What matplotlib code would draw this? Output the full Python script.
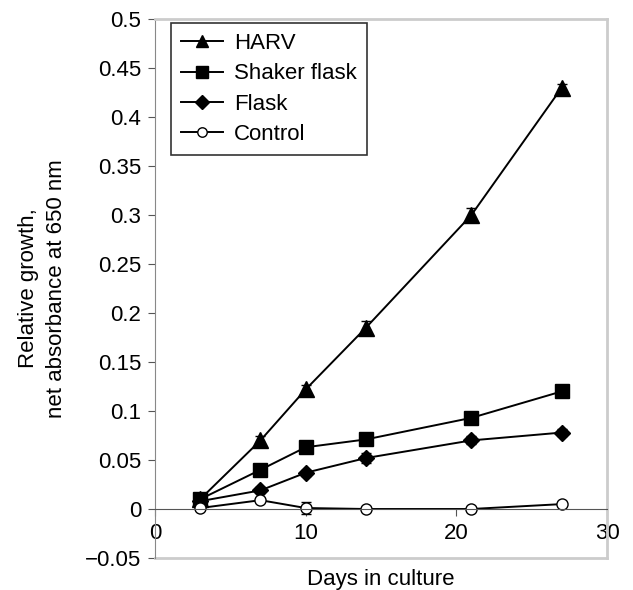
import matplotlib
matplotlib.use("Agg")
import matplotlib.pyplot as plt
from matplotlib.lines import Line2D

plt.rcParams['font.family'] = ['Liberation Sans', 'DejaVu Sans']

days = [3, 7, 10, 14, 21, 27]

harv = [0.010, 0.070, 0.122, 0.185, 0.300, 0.430]
harv_err = [0.002, 0.004, 0.005, 0.007, 0.007, 0.004]

shaker = [0.010, 0.040, 0.063, 0.071, 0.093, 0.120]
shaker_err = [0.002, 0.003, 0.003, 0.003, 0.003, 0.006]

flask = [0.008, 0.019, 0.037, 0.052, 0.070, 0.078]
flask_err = [0.002, 0.003, 0.003, 0.005, 0.004, 0.004]

control = [0.001, 0.009, 0.001, 0.000, 0.000, 0.005]
control_err = [0.001, 0.001, 0.006, 0.001, 0.001, 0.001]

names = ["HARV", "Shaker flask", "Flask", "Control"]
markers = ["^", "s", "D", "o"]
msizes = [11, 9.5, 8.5, 8]
fills = ["black", "black", "black", "white"]

fig = plt.figure(figsize=(6.33, 5.9), dpi=100)
ax = fig.add_axes([155 / 633, 32 / 590, 452 / 633, 539 / 590])

series = [(harv, harv_err), (shaker, shaker_err), (flask, flask_err), (control, control_err)]
handles = []
for (vals, errs), name, m, ms, fc in zip(series, names, markers, msizes, fills):
    ax.errorbar(days, vals, yerr=errs, color="black", lw=1.4, marker=m, markersize=ms,
                mfc=fc, mec="black", capsize=3.5, elinewidth=1.0, capthick=1.0)
    handles.append(Line2D([], [], color="black", lw=1.4, marker=m, markersize=ms * 0.85,
                          mfc=fc, mec="black", label=name))

ax.set_xlim(0, 30)
ax.set_ylim(-0.05, 0.5)
ax.set_xticks([0, 10, 20, 30])
ax.set_yticks([-0.05, 0, 0.05, 0.1, 0.15, 0.2, 0.25, 0.3, 0.35, 0.4, 0.45, 0.5])
ax.set_yticklabels(["\u22120.05", "0", "0.05", "0.1", "0.15", "0.2", "0.25", "0.3",
                    "0.35", "0.4", "0.45", "0.5"])

ax.spines["bottom"].set_position(("data", 0))
ax.spines["bottom"].set_color("#555555")
ax.spines["left"].set_color("#888888")
for s in ["top", "right"]:
    ax.spines[s].set_color("#cccccc")
    ax.spines[s].set_linewidth(2)
ax.axhline(-0.05, color="#cccccc", lw=2, clip_on=False)

ax.tick_params(axis="both", labelsize=16, direction="out", length=5, color="#555555")
ax.tick_params(axis="y", pad=5)
ax.tick_params(axis="x", pad=5)

ax.set_ylabel("Relative growth,\nnet absorbance at 650 nm", fontsize=16, linespacing=1.4)
ax.yaxis.set_label_coords(-0.195, 0.5)
ax.set_xlabel("Days in culture", fontsize=16)
ax.xaxis.set_label_coords(0.5, -0.04)
ax.xaxis.label.set_verticalalignment("center")

leg = ax.legend(handles=handles, loc="upper left", fontsize=16, frameon=True, fancybox=False,
                edgecolor="black", handlelength=1.9, labelspacing=0.42,
                borderpad=0.45, handletextpad=0.5, bbox_to_anchor=(0.01, 1.013))
leg.get_frame().set_linewidth(1.2)

fig.savefig("out.png", dpi=100)
